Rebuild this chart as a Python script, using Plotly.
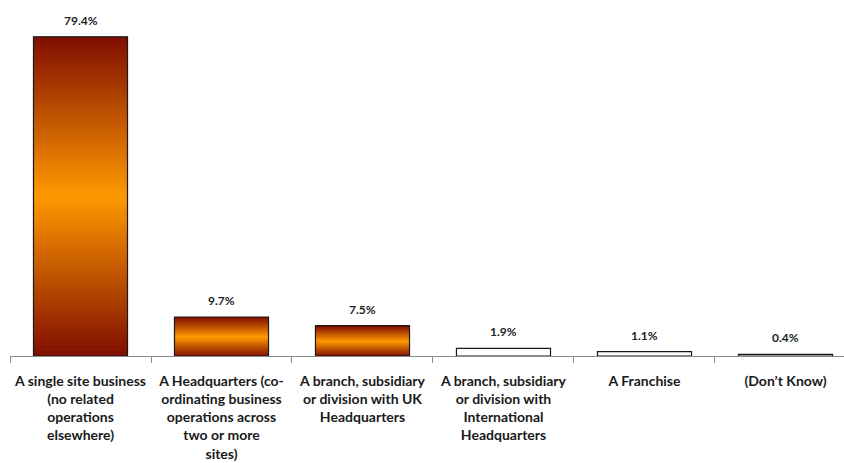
import plotly.graph_objects as go

categories = [
    "A single site business<br>(no related<br>operations<br>elsewhere)",
    "A Headquarters (co-<br>ordinating business<br>operations across<br>two or more<br>sites)",
    "A branch, subsidiary<br>or division with UK<br>Headquarters",
    "A branch, subsidiary<br>or division with<br>International<br>Headquarters",
    "A Franchise",
    "(Don\u2019t Know)",
]
values = [79.4, 9.7, 7.5, 1.9, 1.1, 0.4]
gradient_fill = [True, True, True, False, False, False]

DARK = (128, 14, 0)
ORANGE = (255, 153, 0)
N = 60
FONT = "Lato"

fig = go.Figure()

for i in range(N):
    t = (i + 0.5) / N
    s = 1 - abs(2 * t - 1)
    c = tuple(round(DARK[k] + (ORANGE[k] - DARK[k]) * s) for k in range(3))
    top_slice = (i == N - 1)
    fig.add_trace(go.Bar(
        x=categories,
        y=[v / N * (1.0 if top_slice else 2.0) if g else 0 for v, g in zip(values, gradient_fill)],
        base=[v * i / N if g else 0 for v, g in zip(values, gradient_fill)],
        marker=dict(color="rgb(%d,%d,%d)" % c, line=dict(width=0)),
        width=0.667,
        hoverinfo="skip",
        showlegend=False,
    ))

fig.add_trace(go.Bar(
    x=categories,
    y=values,
    marker=dict(
        color=["rgba(0,0,0,0)" if g else "white" for g in gradient_fill],
        line=dict(color="#1a1a1a", width=1.2),
    ),
    width=0.667,
    showlegend=False,
))

for cat, v in zip(categories, values):
    fig.add_annotation(
        x=cat, y=v, text="%.1f%%" % v, showarrow=False,
        yanchor="bottom", yshift=7,
        font=dict(family=FONT, size=12, color="#222222", weight="bold"),
    )

fig.update_layout(
    width=844,
    height=463,
    margin=dict(l=10, r=0, t=0, b=107),
    barmode="overlay",
    plot_bgcolor="white",
    paper_bgcolor="white",
    font=dict(family=FONT, color="#1a1a1a"),
    xaxis=dict(
        type="category",
        range=[-0.5, 5.415],
        automargin=False,
        showline=True,
        linecolor="#8a8a8a",
        linewidth=1,
        ticks="outside",
        tickson="boundaries",
        ticklen=6,
        tickcolor="#8a8a8a",
        ticklabelstandoff=12,
        tickfont=dict(family=FONT, size=14, color="#1a1a1a", weight="bold"),
        showgrid=False,
    ),
    yaxis=dict(
        range=[0, 88.56],
        visible=False,
        showgrid=False,
        zeroline=False,
        automargin=False,
    ),
)

fig.write_html(
    "out.html",
    config={"displayModeBar": False},
    post_script="document.body.style.margin='0';document.body.style.overflow='hidden';",
)
